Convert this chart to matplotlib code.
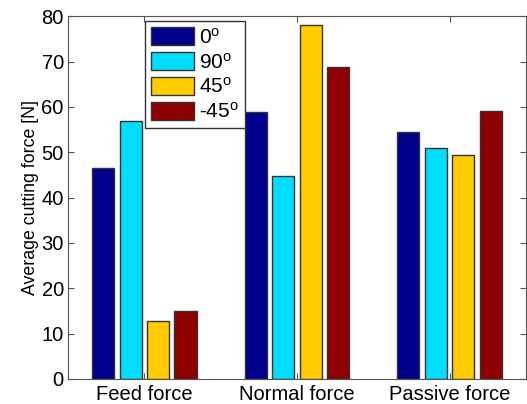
import matplotlib
matplotlib.use('Agg')
import matplotlib.pyplot as plt
import numpy as np

plt.rcParams['font.family'] = ['Liberation Sans', 'DejaVu Sans']
plt.rcParams['mathtext.default'] = 'regular'

categories = ['Feed force', 'Normal force', 'Passive force']
labels = ['0$^{o}$', '90$^{o}$', '45$^{o}$', '-45$^{o}$']
vals_0 = [46.5, 58.9, 54.5]
vals_90 = [56.8, 44.7, 51.0]
vals_45 = [12.8, 78.1, 49.3]
vals_m45 = [14.9, 68.7, 59.1]
colors = ['#00008F', '#00DDFF', '#FFCC00', '#8F0000']

series = [vals_0, vals_90, vals_45, vals_m45]

fig = plt.figure(figsize=(5.27, 4.04), dpi=100)
ax = fig.add_axes([0.129, 0.062, 0.869, 0.898])

x = np.arange(1, len(categories) + 1)
step = 0.18
width = 0.145
for i, (vals, col, lab) in enumerate(zip(series, colors, labels)):
    ax.bar(x + (i - 1.5) * step, vals, width, color=col, edgecolor='#333333',
           linewidth=1.0, label=lab)

ax.set_xlim(0.5, 3.5)
ax.set_ylim(0, 80)
ax.set_xticks(x)
ax.set_xticklabels(categories, fontsize=14.5)
ax.set_yticks(range(0, 81, 10))
ax.tick_params(axis='y', labelsize=14.5, pad=3)
ax.tick_params(axis='x', pad=4)
ax.tick_params(direction='in', top=True, right=True, length=4, color='#555555')
ax.set_ylabel('Average cutting force [N]', fontsize=12.8, labelpad=2)
for s in ax.spines.values():
    s.set_color('#555555')

leg = ax.legend(loc='upper left', bbox_to_anchor=(0.168, 0.986), fontsize=15,
                fancybox=False, edgecolor='#333333', framealpha=1,
                borderaxespad=0, handlelength=2.05, handleheight=0.95,
                labelspacing=0.22, handletextpad=0.25, borderpad=0.3)
leg.get_frame().set_linewidth(1.0)

fig.savefig('out.png', dpi=100)
